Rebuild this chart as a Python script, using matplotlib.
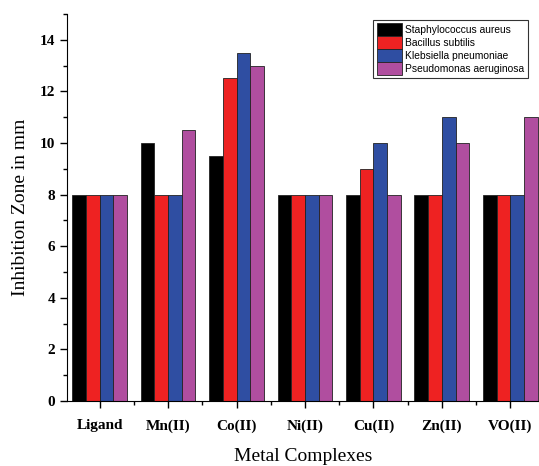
import numpy as np
import matplotlib
matplotlib.use("Agg")
import matplotlib.pyplot as plt
from matplotlib.ticker import MultipleLocator

complexes = ["Ligand", "Mn(II)", "Co(II)", "Ni(II)", "Cu(II)", "Zn(II)", "VO(II)"]
staph = [8, 10, 9.5, 8, 8, 8, 8]
bacillus = [8, 8, 12.5, 8, 9, 8, 8]
klebsiella = [8, 8, 13.5, 8, 10, 11, 8]
pseudomonas = [8, 10.5, 13, 8, 8, 10, 11]

series = [
    ("Staphylococcus aureus", staph, "#000000"),
    ("Bacillus subtilis", bacillus, "#ee2222"),
    ("Klebsiella pneumoniae", klebsiella, "#2f4ea2"),
    ("Pseudomonas aeruginosa", pseudomonas, "#b04e9f"),
]

fig = plt.figure(figsize=(5.39, 4.66), dpi=100)
ax = fig.add_axes([0.124, 0.1395, 0.876, 0.8305])

x = np.arange(len(complexes))
w = 0.2
for i, (name, vals, col) in enumerate(series):
    ax.bar(x + (i - 1.5) * w, vals, w, color=col, edgecolor="#222222",
           linewidth=0.6, label=name)

ax.set_xlim(-0.48, 6.42)
ax.set_ylim(0, 15)
ax.set_xticks(x)
ax.set_xticklabels(complexes)
ax.xaxis.set_minor_locator(MultipleLocator(1, offset=0.5))
ax.yaxis.set_major_locator(MultipleLocator(2))
ax.yaxis.set_minor_locator(MultipleLocator(1))
ax.tick_params(which="major", direction="out", length=5, width=1)
ax.tick_params(which="minor", direction="out", length=3, width=1)
ax.tick_params(axis="x", pad=8)

for lab in ax.get_xticklabels() + ax.get_yticklabels():
    lab.set_fontfamily("Liberation Serif")
    lab.set_fontweight("bold")
    lab.set_fontsize(11)

ax.spines["top"].set_visible(False)
ax.spines["right"].set_visible(False)

ax.set_xlabel("Metal Complexes", fontfamily="Liberation Serif", fontsize=14, labelpad=11)
ax.set_ylabel("Inhibition Zone in mm", fontfamily="Liberation Serif", fontsize=14, labelpad=8)

leg = ax.legend(loc="upper right", bbox_to_anchor=(0.98, 0.99),
                prop={"family": "Liberation Sans", "size": 7.4},
                frameon=True, fancybox=False, edgecolor="black",
                handlelength=2.5, handleheight=1.5, handletextpad=0.3,
                labelspacing=0.05, borderpad=0.3, borderaxespad=0.2)
leg.get_frame().set_linewidth(0.8)

fig.savefig("out.png", dpi=100)
